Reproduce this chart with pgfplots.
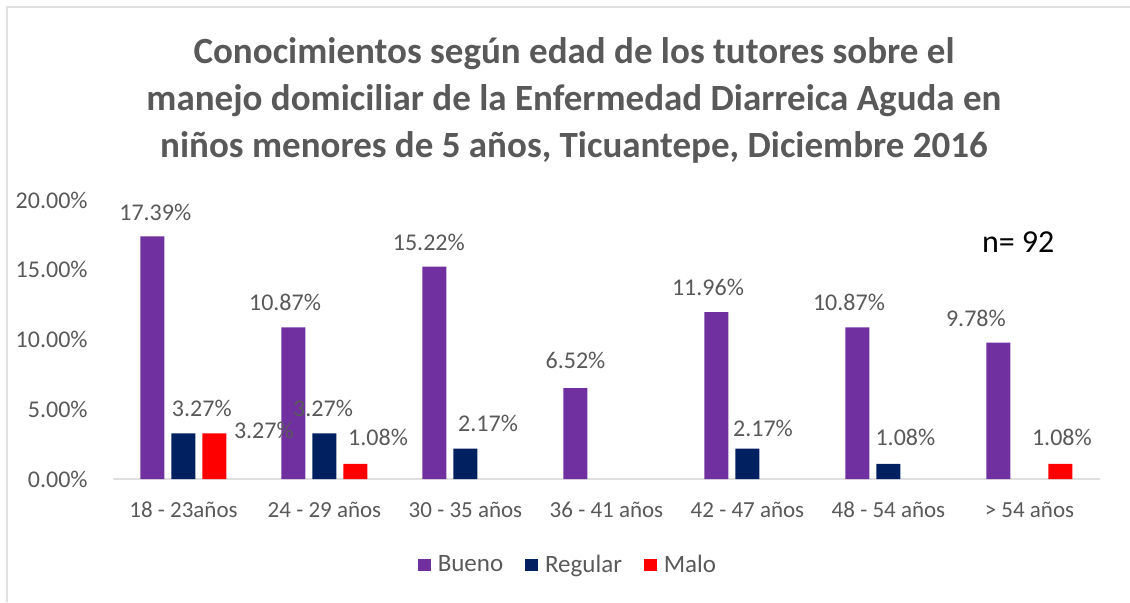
\documentclass[border=0pt]{standalone}
\usepackage{pgfplots}
\pgfplotsset{compat=1.18}
\usepackage{fontspec}
\setmainfont{Carlito}

\definecolor{bueno}{HTML}{7030A0}
\definecolor{regular}{HTML}{002060}
\definecolor{malo}{HTML}{FF0000}
\definecolor{txt}{HTML}{595959}
\definecolor{frame}{HTML}{E0E0E0}

% 1 px of the reference = 0.5pt; axis lower left corner at px (113,479)
\begin{document}
\begin{tikzpicture}[x=0.5pt,y=0.5pt]
\useasboundingbox (-113,-123) rectangle (1017,479);
\draw[frame,line width=1.2pt] (-106,-123) -- (-106,472) -- (1017,472);

\begin{axis}[
    at={(0,0)}, anchor=south west,
    scale only axis,
    width=493.5pt, height=139.5pt,
    ybar=3.5pt, bar width=12pt,
    xmin=-0.5, xmax=6.5,
    ymin=0, ymax=20,
    axis x line*=bottom,
    axis y line=none,
    x axis line style={draw=frame, line width=0.8pt, -},
    major tick length=0pt,
    xtick={0,...,6},
    xticklabels={18 - 23años, 24 - 29 años, 30 - 35 años, 36 - 41 años, 42 - 47 años, 48 - 54 años, > 54 años},
    xticklabel style={font=\fontsize{11.5}{13}\selectfont, text=txt, yshift=-8pt},
    ytick={0,5,10,15,20},
    legend image code/.code={\fill[#1] (0pt,-3.2pt) rectangle (6.4pt,3.2pt);},
    legend style={at={(0.462,-0.308)}, anchor=center, draw=none, fill=none,
        legend columns=3, font=\fontsize{12.5}{14}\selectfont, text=txt,
        /tikz/every odd column/.append style={column sep=1.5pt},
        /tikz/every even column/.append style={column sep=9pt}},
    clip=false,
]
\addplot[fill=bueno, draw=none] coordinates {(0,17.39) (1,10.87) (2,15.22) (3,6.52) (4,11.96) (5,10.87) (6,9.78)};
\addlegendentry{Bueno}
\addplot[fill=regular, draw=none] coordinates {(0,3.27) (1,3.27) (2,2.17) (4,2.17) (5,1.08)};
\addlegendentry{Regular}
\addplot[fill=malo, draw=none] coordinates {(0,3.27) (1,1.08) (6,1.08)};
\addlegendentry{Malo}

% y tick labels
\begin{scope}[every node/.style={anchor=east, text=txt, font=\fontsize{12}{14}\selectfont, inner sep=0pt, xshift=-12.5pt}]
\node at (axis cs:-0.5,0) {0.00\%};
\node at (axis cs:-0.5,5) {5.00\%};
\node at (axis cs:-0.5,10) {10.00\%};
\node at (axis cs:-0.5,15) {15.00\%};
\node at (axis cs:-0.5,20) {20.00\%};
\end{scope}

% data labels
\begin{scope}[every node/.style={text=txt, font=\fontsize{12}{14}\selectfont, inner sep=0pt}]
\node at (axis cs:-0.20,19.14) {17.39\%};
\node at (axis cs:0.72,12.69) {10.87\%};
\node at (axis cs:1.74,16.99) {15.22\%};
\node at (axis cs:2.78,8.53) {6.52\%};
\node at (axis cs:3.72,13.76) {11.96\%};
\node at (axis cs:4.72,12.69) {10.87\%};
\node at (axis cs:5.62,11.54) {9.78\%};
\node at (axis cs:0.13,5.09) {3.27\%};
\node at (axis cs:0.57,3.51) {3.27\%};
\node at (axis cs:0.99,5.09) {3.27\%};
\node at (axis cs:1.38,3.01) {1.08\%};
\node at (axis cs:2.16,4.01) {2.17\%};
\node at (axis cs:4.11,3.66) {2.17\%};
\node at (axis cs:5.12,3.01) {1.08\%};
\node at (axis cs:6.23,3.01) {1.08\%};
\end{scope}
\node[font=\fontsize{16}{18}\selectfont, inner sep=0pt] at (axis cs:5.92,16.98) {n= 92};
\end{axis}

\node[align=center, text=txt, font=\fontsize{18.5}{23.5}\selectfont\bfseries, inner sep=0pt]
  at (461,379) {Conocimientos según edad de los tutores sobre el\\manejo domiciliar de la Enfermedad Diarreica Aguda en\\niños menores de 5 años, Ticuantepe, Diciembre 2016};
\end{tikzpicture}
\end{document}
